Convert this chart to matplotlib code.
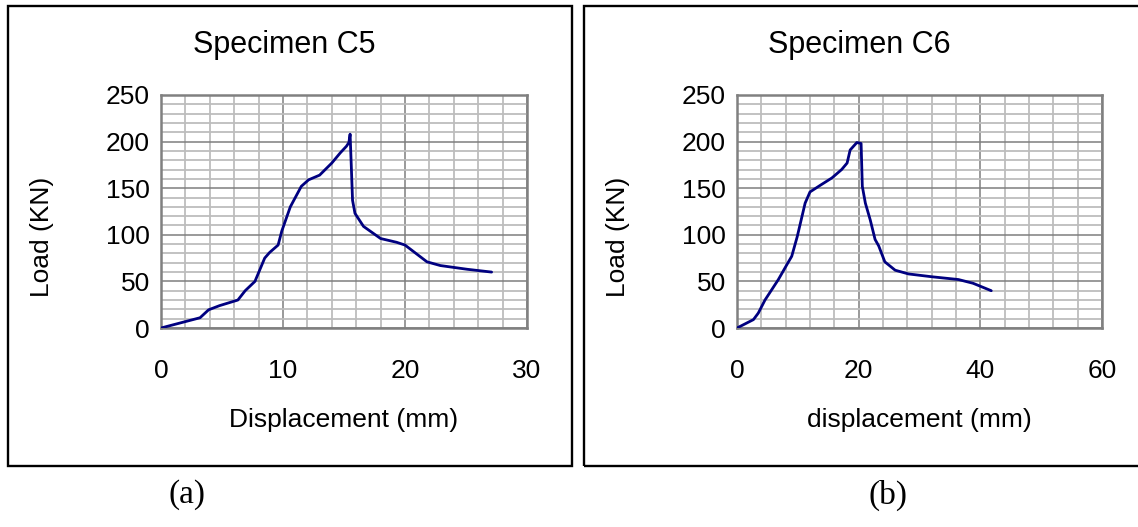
import matplotlib.pyplot as plt
from matplotlib.patches import Rectangle
from matplotlib.ticker import MultipleLocator

plt.rcParams['font.family'] = ['Liberation Sans', 'DejaVu Sans']

# Specimen C5
c5_disp = [0, 3.2, 3.9, 4.8, 6.3, 6.9, 7.7, 8.5, 8.9, 9.6, 9.9, 10.6, 11.5, 12.1,
           13.0, 14.0, 14.7, 15.2, 15.4, 15.5, 15.6, 15.7, 15.9, 16.6, 18.0, 19.3,
           20.0, 21.0, 21.8, 22.9, 25.1, 27.1]
c5_load = [0, 11, 19.5, 24, 30, 40, 50, 75, 81, 89, 104, 130, 152, 159,
           164, 177, 188, 195, 199, 208, 173, 137, 123, 109, 96, 92,
           89, 79, 71, 67, 63, 60]

# Specimen C6
c6_disp = [0, 2.7, 3.5, 4.6, 6.8, 8.2, 9.0, 9.9, 11.2, 12.0, 13.9, 15.6, 17.2,
           18.1, 18.6, 19.7, 20.4, 20.6, 21.1, 21.9, 22.7, 23.3, 24.3, 26.0,
           28.2, 32.0, 36.4, 38.8, 41.8]
c6_load = [0, 9, 16, 30, 52, 68, 77, 98, 134, 146, 154, 161, 170,
           177, 191, 199, 198, 152, 134, 116, 95, 88, 71, 62,
           58, 55, 52, 48, 40]

W, H = 1138, 527
fig = plt.figure(figsize=(W / 100, H / 100), dpi=100)


def fx(x):
    return x / W


def fy(y):
    return 1 - y / H


def make_panel(x0, x1, xdata, ydata, xmax, xminor, title, xlabel, tag, tagx, boxx0, boxx1):
    fig.patches.append(Rectangle((fx(boxx0), fy(466)), fx(boxx1 - boxx0), (466 - 6) / H,
                                 transform=fig.transFigure, fill=False,
                                 edgecolor='black', linewidth=1.7))
    ax = fig.add_axes([fx(x0), fy(328), fx(x1 - x0), (328 - 95) / H])
    ax.plot(xdata, ydata, color='#000080', lw=2.0, zorder=3,
            solid_joinstyle='round', solid_capstyle='round')
    ax.set_xlim(0, xmax)
    ax.set_ylim(0, 250)
    ax.xaxis.set_major_locator(MultipleLocator(xmax / 3))
    ax.xaxis.set_minor_locator(MultipleLocator(xminor))
    ax.yaxis.set_major_locator(MultipleLocator(50))
    ax.yaxis.set_minor_locator(MultipleLocator(10))
    ax.grid(True, which='minor', color='#bdbdbd', lw=1.3, zorder=1)
    ax.grid(True, which='major', color='#7f7f7f', lw=1.1, zorder=2)
    ax.set_axisbelow(True)
    for s in ax.spines.values():
        s.set_color('#808080')
        s.set_linewidth(1.8)
    ax.tick_params(which='both', length=0, labelsize=19)
    ax.tick_params(axis='x', pad=22)
    ax.tick_params(axis='y', pad=8)
    cx = (x0 + x1) / 2
    fig.text(fx(cx - 60), fy(45), title, ha='center', va='center', fontsize=22)
    fig.text(fx(cx), fy(420), xlabel, ha='center', va='center', fontsize=19)
    fig.text(fx(x0 - 119), fy(237), 'Load (KN)', ha='center', va='center',
             fontsize=19, rotation=90)
    fig.text(fx(tagx), fy(495), tag, ha='center', va='center', fontsize=24,
             family='Liberation Serif')
    return ax


make_panel(161, 527, c5_disp, c5_load, 30, 2, 'Specimen C5',
           'Displacement (mm)', '(a)', 187, 8, 572)
make_panel(737, 1102, c6_disp, c6_load, 60, 4, 'Specimen C6',
           'displacement (mm)', '(b)', 888, 584, 1150)

fig.savefig('out.png', dpi=100)
